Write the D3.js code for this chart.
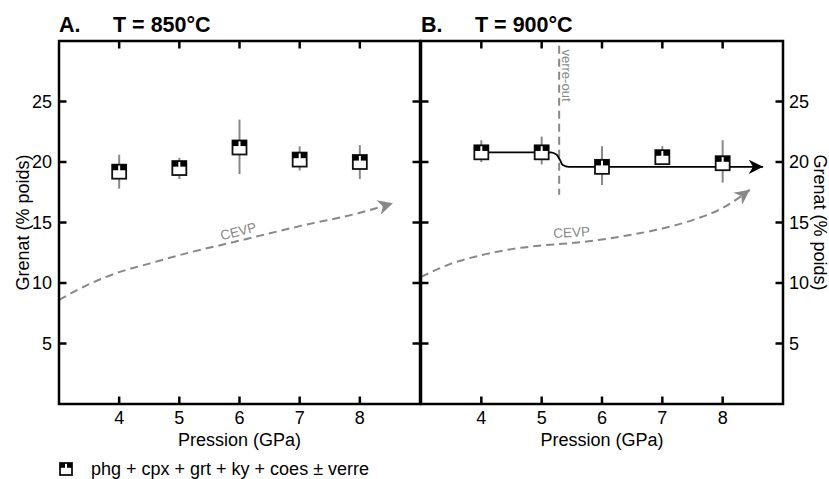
<!DOCTYPE html>
<html><head><meta charset="utf-8">
<script src="https://cdn.jsdelivr.net/npm/d3@7"></script>
<style>body{margin:0;background:#fff}svg{display:block;font-family:"Liberation Sans",Arial,sans-serif}</style>
</head><body><svg id="c" width="829" height="479"></svg>
<script>
const pressures = [4, 5, 6, 7, 8];
const xTicks = [4, 5, 6, 7, 8];
const yTicks = [5, 10, 15, 20, 25];
const grt850 = [19.2, 19.5, 21.2, 20.2, 20.0];
const lo850 = [17.8, 18.6, 19.0, 19.3, 18.6];
const hi850 = [20.6, 20.35, 23.5, 21.3, 21.4];
const grt900 = [20.8, 20.8, 19.6, 20.4, 19.9];
const lo900 = [20.0, 19.8, 18.1, 19.8, 18.3];
const hi900 = [21.8, 22.1, 21.3, 21.3, 21.8];
const cevpAX = [3.0, 3.5, 4.0, 4.5, 5.0, 6.0, 7.0, 8.0, 8.55];
const cevpAY = [8.6, 9.9, 10.9, 11.6, 12.3, 13.5, 14.7, 15.8, 16.6];
const cevpBX = [3.0, 3.5, 4.0, 4.5, 5.0, 5.5, 6.0, 6.5, 7.0, 7.5, 8.0, 8.45];
const cevpBY = [10.5, 11.6, 12.3, 12.8, 13.1, 13.3, 13.6, 14.0, 14.5, 15.2, 16.2, 17.7];
const trendX = [4.0, 5.15, 5.25, 5.3, 5.35, 5.45, 8.67];
const trendY = [20.8, 20.8, 20.6, 20.2, 19.75, 19.6, 19.6];
const verreOutX = 5.29;
const verreOutY = [17.3, 29.6];
const titles = [["A.", "T = 850°C"], ["B.", "T = 900°C"]];
const legendText = "phg + cpx + grt + ky + coes ± verre";

const svg = d3.select("#c");
const y = d3.scaleLinear().domain([0, 30]).range([404, 41]);
const xA = d3.scaleLinear().domain([3, 9]).range([59, 420]);
const xB = d3.scaleLinear().domain([3, 9]).range([421, 783]);
const grey = "#888";
const fs = 18;

const defs = svg.append("defs");
defs.append("marker").attr("id", "ga").attr("viewBox", "0 0 10 10").attr("refX", 10).attr("refY", 5)
  .attr("markerWidth", 7.5).attr("markerHeight", 7.5).attr("markerUnits", "strokeWidth").attr("orient", "auto")
  .append("path").attr("d", "M0,0 L10,5 L0,10 L3,5 Z").attr("fill", grey);
defs.append("marker").attr("id", "ba").attr("viewBox", "0 0 10 10").attr("refX", 10).attr("refY", 5)
  .attr("markerWidth", 10).attr("markerHeight", 8).attr("markerUnits", "strokeWidth").attr("orient", "auto")
  .append("path").attr("d", "M0,0 L10,5 L0,10 L3,5 Z").attr("fill", "#000");

function drawMarker(g, cx, cy, s) {
  const h = s / 2;
  g.append("rect").attr("x", cx - h).attr("y", cy - h).attr("width", s).attr("height", s)
    .attr("fill", "#fff").attr("stroke", "#111").attr("stroke-width", 1.8);
  const bh = s * 0.4;
  g.append("rect").attr("x", cx - h).attr("y", cy - h).attr("width", h - 1).attr("height", bh).attr("fill", "#000");
  g.append("rect").attr("x", cx + 1).attr("y", cy - h).attr("width", h - 1).attr("height", bh).attr("fill", "#000");
}

function panel(x, vals, lo, hi, cx, cy, idx) {
  const g = svg.append("g");
  const [x0, x1] = x.range();
  const [y0, y1] = [y(0), y(30)];
  const line = d3.line().x((d, i) => x(cx[i])).y(d => y(d)).curve(d3.curveMonotoneX);
  g.append("path").attr("d", line(cy)).attr("fill", "none").attr("stroke", grey)
    .attr("stroke-width", 2).attr("stroke-dasharray", "8,5").attr("marker-end", "url(#ga)");
  g.selectAll(".eb").data(pressures).enter().append("line")
    .attr("x1", d => x(d)).attr("x2", d => x(d))
    .attr("y1", (d, i) => y(lo[i])).attr("y2", (d, i) => y(hi[i]))
    .attr("stroke", grey).attr("stroke-width", 2);
  if (idx === 1) {
    g.append("line").attr("x1", x(verreOutX)).attr("x2", x(verreOutX))
      .attr("y1", y(verreOutY[1])).attr("y2", y(verreOutY[0]))
      .attr("stroke", grey).attr("stroke-width", 2).attr("stroke-dasharray", "8,5");
    g.append("text").attr("transform", `translate(${x(verreOutX) + 3},${y(29.3)}) rotate(90)`)
      .attr("font-size", 13).attr("fill", grey).text("verre-out");
    const tl = d3.line().x((d, i) => x(trendX[i])).y(d => y(d)).curve(d3.curveMonotoneX);
    g.append("path").attr("d", tl(trendY)).attr("fill", "none").attr("stroke", "#000")
      .attr("stroke-width", 1.8).attr("marker-end", "url(#ba)");
  }
  pressures.forEach((p, i) => drawMarker(g, x(p), y(vals[i]), 14));
  if (idx === 0) {
    g.append("text").attr("transform", `translate(${x(6.0)},${y(13.9)}) rotate(-14)`)
      .attr("text-anchor", "middle").attr("font-size", 13.5).attr("fill", grey).text("CEVP");
  } else {
    g.append("text").attr("transform", `translate(${x(5.5)},${y(13.8)}) rotate(-3)`)
      .attr("text-anchor", "middle").attr("font-size", 13.5).attr("fill", grey).text("CEVP");
  }
  const tl = 7.5;
  const ax = g.append("g").attr("stroke", "#000").attr("stroke-width", 2.5).attr("fill", "none");
  ax.append("path").attr("d", `M${x0},${y1} L${x1},${y1} L${x1},${y0} L${x0},${y0} Z`);
  xTicks.forEach(t => {
    ax.append("line").attr("x1", x(t)).attr("x2", x(t)).attr("y1", y0).attr("y2", y0 - tl);
    ax.append("line").attr("x1", x(t)).attr("x2", x(t)).attr("y1", y1).attr("y2", y1 + tl);
  });
  yTicks.forEach(t => {
    ax.append("line").attr("x1", x0).attr("x2", x0 + tl).attr("y1", y(t)).attr("y2", y(t));
    ax.append("line").attr("x1", x1).attr("x2", x1 - tl).attr("y1", y(t)).attr("y2", y(t));
  });
  g.selectAll(".xl").data(xTicks).enter().append("text")
    .attr("x", d => x(d)).attr("y", 424).attr("text-anchor", "middle").attr("font-size", fs).text(d => d);
  g.append("text").attr("x", (x0 + x1) / 2).attr("y", 446).attr("text-anchor", "middle")
    .attr("font-size", fs).text("Pression (GPa)");
  g.append("text").attr("x", x0).attr("y", 32).attr("font-size", 21.5).attr("font-weight", "bold").text(titles[idx][0]);
  g.append("text").attr("x", x0 + 54).attr("y", 32).attr("font-size", 21.5).attr("font-weight", "bold").text(titles[idx][1]);
  if (idx === 0) {
    g.selectAll(".yl").data(yTicks).enter().append("text")
      .attr("x", x0 - 7).attr("y", d => y(d)).attr("dy", "0.36em").attr("text-anchor", "end")
      .attr("font-size", fs).text(d => d);
    g.append("text").attr("transform", `translate(29,${(y0 + y1) / 2}) rotate(-90)`)
      .attr("text-anchor", "middle").attr("font-size", fs).text("Grenat (% poids)");
  } else {
    g.selectAll(".yl").data(yTicks).enter().append("text")
      .attr("x", x1 + 6).attr("y", d => y(d)).attr("dy", "0.36em").attr("text-anchor", "start")
      .attr("font-size", fs).text(d => d);
    g.append("text").attr("transform", `translate(814,${(y0 + y1) / 2}) rotate(90)`)
      .attr("text-anchor", "middle").attr("font-size", fs).text("Grenat (% poids)");
  }
}
panel(xA, grt850, lo850, hi850, cevpAX, cevpAY, 0);
panel(xB, grt900, lo900, hi900, cevpBX, cevpBY, 1);

const lg = svg.append("g");
drawMarker(lg, 66, 469, 12);
lg.append("text").attr("x", 91).attr("y", 475).attr("font-size", fs).text(legendText);
</script></body></html>
